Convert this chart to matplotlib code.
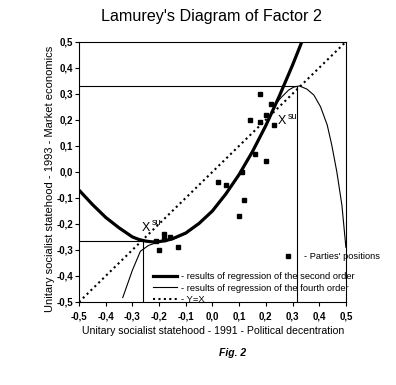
import matplotlib
matplotlib.use("Agg")
import matplotlib.pyplot as plt
from matplotlib.ticker import FuncFormatter, MultipleLocator
from matplotlib.lines import Line2D

plt.rcParams['font.family'] = ['Liberation Sans', 'DejaVu Sans']
narrow = ['Liberation Sans Narrow', 'Liberation Sans', 'DejaVu Sans']

# parties' positions (1991 -> x, 1993 -> y)
party_x = [0.18, 0.22, 0.20, 0.14, 0.18, 0.23, 0.16, 0.20, 0.11, 0.02, 0.05, 0.12, 0.10,
           -0.21, -0.18, -0.18, -0.16, -0.20, -0.13]
party_y = [0.30, 0.26, 0.22, 0.20, 0.19, 0.18, 0.07, 0.04, 0.00, -0.04, -0.05, -0.11, -0.17,
           -0.265, -0.238, -0.259, -0.252, -0.30, -0.29]

# second order regression curve
q_x = [-0.5, -0.45, -0.4, -0.35, -0.3, -0.275, -0.25, -0.225, -0.2, -0.175, -0.15, -0.1,
       -0.05, 0.0, 0.05, 0.1, 0.15, 0.2, 0.25, 0.3, 0.335]
q_y = [-0.07, -0.125, -0.175, -0.215, -0.25, -0.26, -0.266, -0.269, -0.268, -0.264, -0.257,
       -0.235, -0.198, -0.15, -0.085, -0.01, 0.078, 0.178, 0.29, 0.41, 0.5]

# fourth order regression curve
f_x = [-0.336, -0.3, -0.27, -0.24, -0.21, -0.15, -0.1, -0.05, 0.0, 0.05, 0.1, 0.15,
       0.2, 0.235, 0.255, 0.285, 0.305, 0.326, 0.354, 0.38, 0.405, 0.43, 0.447, 0.466,
       0.485, 0.5]
f_y = [-0.483, -0.378, -0.305, -0.283, -0.272, -0.26, -0.238, -0.2, -0.152, -0.088, -0.013,
       0.075, 0.176, 0.257, 0.283, 0.314, 0.326, 0.330, 0.318, 0.295, 0.25, 0.18, 0.103, 0.0,
       -0.128, -0.29]

# X^su points
su_x = [-0.26, 0.315]
su_y = [-0.265, 0.33]
su_label_x = [-0.266, 0.244]
su_label_y = [-0.228, 0.183]

fig = plt.figure(figsize=(3.96, 3.85), dpi=100)
ax = fig.add_axes([0.1995, 0.2156, 0.674, 0.676])

for sx, sy in zip(su_x, su_y):
    ax.plot([-0.5, sx], [sy, sy], color='black', lw=0.8)
    ax.plot([sx, sx], [-0.5, sy], color='black', lw=0.8)

ax.plot([-0.5, 0.5], [-0.5, 0.5], color='black', lw=1.5, linestyle=(0, (1, 1.6)),
        dash_capstyle='butt')
ax.plot(f_x, f_y, color='black', lw=0.8)
ax.plot(q_x, q_y, color='black', lw=2.3, solid_capstyle='butt')
ax.plot(party_x, party_y, 's', color='black', ms=3.3, linestyle='none')

for lx, ly in zip(su_label_x, su_label_y):
    ax.text(lx, ly, 'X', fontsize=9, ha='left', va='baseline')
    ax.text(lx + 0.038, ly + 0.022, 'su', fontsize=6.5, ha='left', va='baseline')

ax.set_xlim(-0.5, 0.5)
ax.set_ylim(-0.5, 0.5)
ax.xaxis.set_major_locator(MultipleLocator(0.1))
ax.yaxis.set_major_locator(MultipleLocator(0.1))
fmt = FuncFormatter(lambda v, p: ('%.1f' % (round(v, 2) + 0.0)).replace('.', ','))
ax.xaxis.set_major_formatter(fmt)
ax.yaxis.set_major_formatter(fmt)
ax.tick_params(direction='out', length=3, width=0.8, labelsize=7)
ax.tick_params(axis='x', pad=4)
ax.tick_params(axis='y', pad=1)
for lab in ax.get_xticklabels() + ax.get_yticklabels():
    lab.set_fontweight('bold')
    lab.set_family(narrow)
for s in ax.spines.values():
    s.set_linewidth(0.8)

# legends
h1 = Line2D([], [], marker='s', color='black', ms=3.3, linestyle='none')
leg1 = ax.legend([h1], ["- Parties' positions"], loc='center left',
                 bbox_to_anchor=(0.766, 0.173), frameon=False, fontsize=6.7,
                 borderpad=0, borderaxespad=0, handlelength=1.0, handletextpad=1.2)
ax.add_artist(leg1)
h2 = Line2D([], [], color='black', lw=2.3)
h3 = Line2D([], [], color='black', lw=0.8)
h4 = Line2D([], [], color='black', lw=1.5, linestyle=(0, (1, 1.6)))
ax.legend([h2, h3, h4],
          ['- results of regression of the second order',
           '- results of regression of the fourth order',
           '- Y=X'],
          loc='lower left', bbox_to_anchor=(0.277, -0.008), frameon=False, fontsize=6.75,
          borderpad=0, borderaxespad=0, handlelength=2.6, handletextpad=0.35,
          labelspacing=0.27)

fig.text(0.533, 0.956, "Lamurey's Diagram of Factor 2", fontsize=11.6, ha='center',
         va='center')
fig.text(0.538, 1 - 331 / 385, 'Unitary socialist statehood - 1991 - Political decentration',
         fontsize=7.6, ha='center', va='center')
fig.text(50 / 396, 1 - 179 / 385, 'Unitary socialist statehood - 1993 - Market economics',
         fontsize=8, ha='center', va='center', rotation=90)
fig.text(233 / 396, 1 - 353 / 385, 'Fig. 2', fontsize=7.5, style='italic', ha='center',
         va='center', family=narrow, fontweight='semibold')

fig.savefig('out.png', dpi=100, facecolor='white')
